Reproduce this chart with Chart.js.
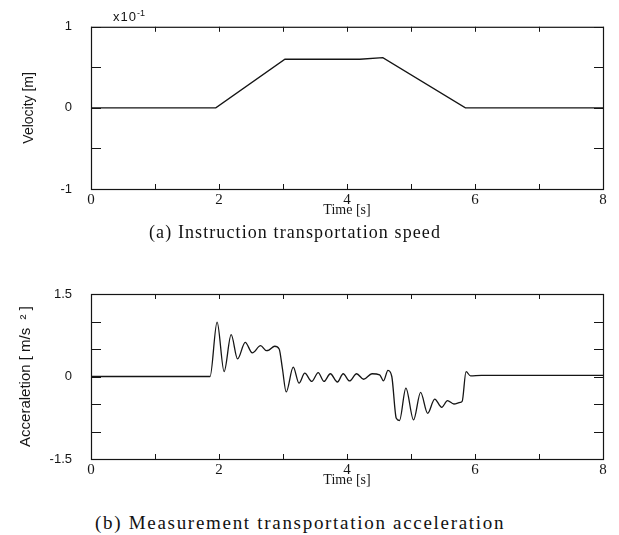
<!DOCTYPE html>
<html>
<head>
<meta charset="utf-8">
<script src="https://cdn.jsdelivr.net/npm/chart.js@4.4.0/dist/chart.umd.min.js"></script>
<style>
  body { margin: 0; background: #fff; width: 619px; height: 535px; position: relative; overflow: hidden; }
  canvas { position: absolute; left: 0; }
  #speed-chart { top: 0; }
  #accel-chart { top: 255px; }
  .caption { position: absolute; left: 0; width: 619px; font-family: "Liberation Serif", serif; color: #111; white-space: nowrap; }
  #cap-a { top: 222px; text-indent: 149px; font-size: 18px; letter-spacing: 1.1px; }
  #cap-b { top: 512px; text-indent: 95px; font-size: 19px; letter-spacing: 1.7px; }
  #exponent { position: absolute; left: 113px; top: 8px; font-family: "Liberation Sans", sans-serif; font-size: 13px; letter-spacing: 1px; color: #111; }
  #exponent sup { font-size: 9px; letter-spacing: 0; }
</style>
</head>
<body>
<canvas id="speed-chart" width="619" height="225"></canvas>
<canvas id="accel-chart" width="619" height="240"></canvas>
<div id="exponent">x10<sup>-1</sup></div>
<div class="caption" id="cap-a">(a) Instruction transportation speed</div>
<div class="caption" id="cap-b">(b) Measurement transportation acceleration</div>
<script>
// (a) commanded velocity, units of x10^-1 m
const speedTime  = [0, 1.95, 3.03, 4.20, 4.56, 5.85, 8];
const speedValue = [0, 0,    0.60, 0.60, 0.62, 0,    0];

// (b) measured acceleration, m/s^2
const accelTime  = [0, 1.86, 1.97, 2.08, 2.19, 2.29, 2.41, 2.52, 2.65, 2.74, 2.78, 2.87, 2.94, 2.99,
                    3.05, 3.16, 3.25, 3.34, 3.45, 3.55, 3.64, 3.74, 3.85, 3.94, 4.04, 4.15, 4.26, 4.39,
                    4.51, 4.57, 4.64, 4.70, 4.77, 4.82, 4.92, 5.04, 5.15, 5.26, 5.37, 5.48, 5.57, 5.67,
                    5.77, 5.80, 5.86, 5.93, 6.10, 8];
const accelValue = [0, 0, 0.99, 0.09, 0.76, 0.32, 0.62, 0.43, 0.56, 0.47, 0.48, 0.55, 0.50, 0.15,
                    -0.28, 0.17, -0.12, 0.06, -0.09, 0.07, -0.09, 0.05, -0.10, 0.05, -0.08, 0.05, -0.05, 0.05,
                    0.03, -0.08, 0.11, 0.00, -0.76, -0.80, -0.21, -0.79, -0.29, -0.67, -0.41, -0.56, -0.44, -0.50,
                    -0.47, -0.45, 0.09, 0.01, 0.02, 0.02];

// labelled ticks (others are drawn as unlabelled marks)
const timeLabels  = [0, 2, 4, 6, 8];
const speedLabels = [-1, 0, 1];
const accelLabels = [-1.5, 0, 1.5];

const ink = '#151515';

// box frame + inward tick marks on all four sides
const frameTicks = {
    id: 'frameTicks',
    afterDraw(chart) {
        const { ctx, chartArea: a, scales: { x, y } } = chart;
        ctx.save();
        ctx.strokeStyle = ink;
        ctx.lineWidth = 1.2;
        ctx.strokeRect(a.left + 0.5, a.top + 0.5, a.width, a.height);
        ctx.lineWidth = 1;
        ctx.beginPath();
        x.ticks.forEach(t => {
            const px = Math.round(x.getPixelForValue(t.value)) + 0.5;
            ctx.moveTo(px, a.bottom); ctx.lineTo(px, a.bottom - 5);
            ctx.moveTo(px, a.top);    ctx.lineTo(px, a.top + 5);
        });
        y.ticks.forEach(t => {
            const py = Math.round(y.getPixelForValue(t.value)) + 0.5;
            ctx.moveTo(a.left, py);  ctx.lineTo(a.left + 10, py);
            ctx.moveTo(a.right, py); ctx.lineTo(a.right - 9, py);
        });
        ctx.stroke();
        ctx.restore();
    }
};

function makeChart(canvasId, times, values, opts) {
    const points = times.map((t, i) => ({ x: t, y: values[i] }));
    return new Chart(document.getElementById(canvasId), {
        type: 'line',
        data: {
            datasets: [{
                data: points,
                borderColor: ink,
                borderWidth: 1.3,
                pointRadius: 0,
                fill: false,
                tension: opts.smooth ? 0.4 : 0,
                cubicInterpolationMode: opts.smooth ? 'monotone' : 'default'
            }]
        },
        options: {
            responsive: false,
            animation: false,
            layout: { padding: { left: 0, right: 16, top: opts.top, bottom: 0 } },
            plugins: { legend: { display: false }, tooltip: { enabled: false } },
            scales: {
                x: {
                    type: 'linear', min: 0, max: 8,
                    grid: { display: false, drawTicks: false },
                    border: { display: false },
                    ticks: {
                        stepSize: 1, padding: 2, color: ink,
                        font: { family: 'Liberation Serif', size: 15 },
                        callback: v => timeLabels.includes(v) ? String(v) : ''
                    },
                    title: {
                        display: true, text: 'Time [s]', color: ink,
                        font: { family: 'Liberation Serif', size: 14 },
                        padding: { top: 0, bottom: 6 }
                    },
                    afterFit: s => { s.height = 36; }
                },
                y: {
                    min: opts.min, max: opts.max,
                    grid: { display: false, drawTicks: false },
                    border: { display: false },
                    ticks: {
                        stepSize: opts.step, padding: 19, color: ink,
                        font: { family: 'Liberation Sans', size: 13 },
                        callback: v => opts.labels.includes(v) ? String(v) : ''
                    },
                    title: {
                        display: true, text: opts.title, color: ink,
                        font: { family: 'Liberation Sans', size: opts.titleSize },
                        padding: { top: opts.titlePad, bottom: 0 }
                    },
                    afterFit: s => { s.width = 91; }
                }
            }
        },
        plugins: [frameTicks]
    });
}

makeChart('speed-chart', speedTime, speedValue, {
    top: 24, min: -1, max: 1, step: 0.5, labels: speedLabels,
    title: 'Velocity [m]', titleSize: 14, titlePad: 21, smooth: false
});
makeChart('accel-chart', accelTime, accelValue, {
    top: 39, min: -1.5, max: 1.5, step: 0.25, labels: accelLabels,
    title: 'Acceraletion [ m/s  ² ]', titleSize: 15, titlePad: 17, smooth: true
});
</script>
</body>
</html>
